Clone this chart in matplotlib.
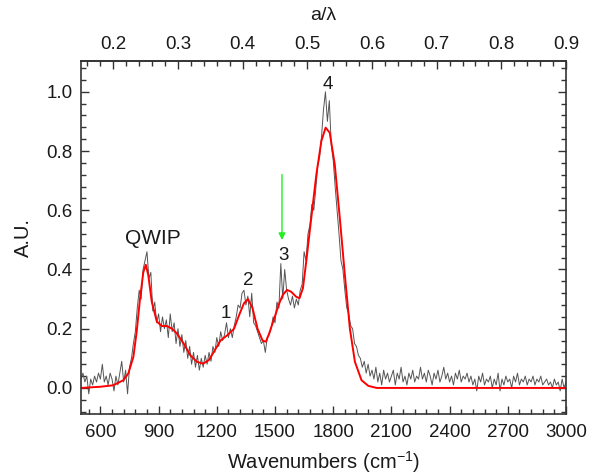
import matplotlib.pyplot as plt
import numpy as np

plt.rcParams['font.family'] = ['Liberation Sans', 'DejaVu Sans']
plt.rcParams['mathtext.default'] = 'regular'

# measured spectrum, every 10 cm-1 from 500 to 3000
wavenumbers = np.arange(500, 3001, 10)
signal = [
    0.03, 0.05, 0.02, 0.04, -0.02, 0.03, 0.01, 0.04, 0.02, 0.05,
    0.03, 0.08, 0.02, 0.04, 0.01, 0.05, 0.03, -0.01, 0.04, 0.01,
    0.05, 0.09, 0.02, 0.06, -0.02,
    0.07, 0.10, 0.15, 0.19, 0.27, 0.33, 0.30, 0.40, 0.43, 0.46,
    0.37, 0.39, 0.26, 0.29, 0.22, 0.25, 0.19, 0.24, 0.20, 0.23,
    0.17, 0.25, 0.19, 0.22, 0.15,
    0.20, 0.14, 0.18, 0.12, 0.16, 0.10, 0.14, 0.08, 0.12, 0.07,
    0.11, 0.06, 0.10, 0.07, 0.11, 0.08, 0.12, 0.09, 0.14, 0.12,
    0.17, 0.14, 0.19, 0.16, 0.18,
    0.22, 0.17, 0.20, 0.17, 0.21, 0.24, 0.28, 0.27, 0.32, 0.33,
    0.28, 0.31, 0.24, 0.32, 0.22, 0.21, 0.19, 0.17, 0.15, 0.16,
    0.12, 0.17, 0.18, 0.20, 0.24,
    0.22, 0.29, 0.27, 0.42, 0.30, 0.40, 0.33, 0.30, 0.28, 0.31,
    0.27, 0.30, 0.28, 0.33, 0.35, 0.46, 0.43, 0.52, 0.55, 0.62,
    0.60, 0.67, 0.75, 0.78, 0.85,
    0.94, 1.00, 0.90, 0.97, 0.82, 0.77, 0.68, 0.60, 0.52, 0.43,
    0.40, 0.33, 0.27, 0.25, 0.21, 0.20, 0.15, 0.14, 0.11, 0.10,
    0.07, 0.09, 0.05, 0.08, 0.04,
    0.06, 0.03, 0.07, 0.02, 0.05, 0.01, 0.06, 0.03, 0.05, 0.02,
    0.04, 0.06, 0.01, 0.05, 0.03, 0.07, 0.02, 0.04, 0.01, 0.05,
    0.03, 0.06, 0.02, 0.04, 0.03, 0.07, 0.03, 0.05, 0.02, 0.06,
    0.04, 0.01, 0.05, 0.03, 0.06, 0.02, 0.04, 0.07, 0.03, 0.05,
    0.02, 0.04, 0.01, 0.05, 0.03, 0.06, 0.02, 0.04, 0.03, 0.05,
    0.02, 0.04, 0.01, 0.03, -0.01, 0.04, 0.02, 0.05, 0.01, 0.03,
    0.02, 0.04, 0.00, 0.03, 0.01, 0.05, -0.01, 0.03, 0.01, 0.04,
    0.02, 0.03, 0.00, 0.04, 0.02, 0.05, 0.01, 0.03, 0.02, 0.04,
    0.01, 0.03, 0.02, 0.04, 0.01, 0.03, 0.02, 0.04, 0.01, 0.02,
    0.03, 0.01, 0.02, 0.00, 0.03, 0.01, 0.02, -0.01, 0.03, 0.00,
    0.02,
]

# fitted curve
fit_x = [500, 600, 666, 718, 744, 770, 787, 804, 821, 834, 847, 865, 891,
         917, 943, 969, 994, 1029, 1064, 1098, 1129, 1159, 1185, 1219, 1254,
         1289, 1315, 1340, 1361, 1384, 1410, 1436, 1453, 1470, 1496, 1522,
         1540, 1562, 1583, 1609, 1626, 1644, 1661, 1687, 1713, 1739, 1761,
         1782, 1808, 1834, 1860, 1886, 1912, 1946, 1981, 2024, 3000]
fit_y = [0.0, 0.004, 0.009, 0.026, 0.049, 0.105, 0.19, 0.30, 0.39, 0.416,
         0.38, 0.29, 0.224, 0.209, 0.209, 0.2, 0.184, 0.15, 0.11, 0.088,
         0.082, 0.094, 0.122, 0.16, 0.178, 0.2, 0.246, 0.286, 0.30, 0.27,
         0.2, 0.16, 0.156, 0.184, 0.235, 0.286, 0.314, 0.331, 0.325, 0.308,
         0.303, 0.337, 0.427, 0.574, 0.72, 0.834, 0.879, 0.862, 0.755, 0.574,
         0.382, 0.2, 0.088, 0.026, 0.007, 0.0, 0.0]

peak_labels = ['QWIP', '1', '2', '3', '4']
peak_x = [873, 1245, 1363, 1543, 1773]
peak_y = [0.506, 0.252, 0.363, 0.447, 1.024]

lattice_a = 3e-4  # cm, so a/lambda = a * wavenumber

txt = '#1a1a1a'
fig = plt.figure(figsize=(5.95, 4.75), dpi=100)
ax = fig.add_axes([81 / 595, 1 - 414 / 475, 485 / 595, 353 / 475])

ax.plot(wavenumbers, signal, color='#555555', lw=0.7)
ax.plot(fit_x, fit_y, color='red', lw=1.4)

for lab, x, y in zip(peak_labels, peak_x, peak_y):
    ax.text(x, y, lab, ha='center', va='center',
            fontsize=15 if lab == 'QWIP' else 13.5, color=txt)

ax.annotate('', xy=(1536, 0.49), xytext=(1536, 0.73),
            arrowprops=dict(arrowstyle='-|>', color='#22ee22', lw=1,
                            mutation_scale=10))

ax.set_xlim(500, 3000)
ax.set_ylim(-0.088, 1.104)
ax.set_xticks(np.arange(600, 3001, 300))
ax.set_xticks(np.arange(540, 3001, 60), minor=True)
ax.set_yticks(np.arange(0, 1.01, 0.2))
ax.set_yticks(np.arange(-0.08, 1.1, 0.04), minor=True)
ax.yaxis.set_major_formatter(lambda v, pos: f'{v:.1f}')

ax.tick_params(which='both', direction='in', top=False, right=True,
               colors='#333333', labelcolor=txt, labelsize=13.5)
ax.tick_params(which='major', length=6, width=1)
ax.tick_params(which='minor', length=3.5, width=1)
ax.tick_params(axis='x', pad=7)
ax.tick_params(axis='y', pad=6)

top = ax.secondary_xaxis('top', functions=(lambda w: w * lattice_a,
                                           lambda r: r / lattice_a))
top.set_xticks(np.arange(0.2, 0.91, 0.1))
top.set_xticks(np.arange(0.16, 0.91, 0.02), minor=True)
top.xaxis.set_major_formatter(lambda v, pos: f'{v:.1f}')
top.tick_params(which='both', direction='in', colors='#333333',
                labelcolor=txt, labelsize=13.5, pad=6)
top.tick_params(which='major', length=6, width=1)
top.tick_params(which='minor', length=3.5, width=1)
top.set_xlabel('a/λ', fontsize=14, color=txt, labelpad=11)

for s in ax.spines.values():
    s.set_linewidth(1.2)
    s.set_color('#333333')
top.spines['top'].set_linewidth(1.2)
top.spines['top'].set_color('#333333')

ax.set_xlabel('Wavenumbers (cm$^{-1}$)', fontsize=14.5, color=txt, labelpad=6)
ax.set_ylabel('A.U.', fontsize=14.5, color=txt, labelpad=10)

assert len(signal) == len(wavenumbers)
fig.savefig('out.png', dpi=100)
